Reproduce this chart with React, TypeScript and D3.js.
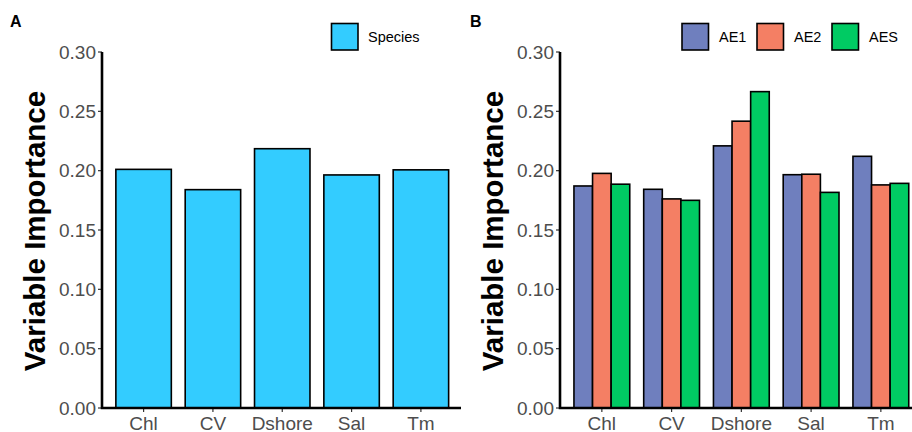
import React, { useRef, useEffect } from 'react';
import * as d3 from 'd3';

// predictors on the x axis
const categories = ['Chl', 'CV', 'Dshore', 'Sal', 'Tm'];

// panel A: all species
const speciesValues = [0.2011, 0.1840, 0.2185, 0.1964, 0.2007];

// panel B: groups
const groups = ['AE1', 'AE2', 'AES'];
const ae1Values = [0.1871, 0.1843, 0.2209, 0.1966, 0.2121];
const ae2Values = [0.1977, 0.1762, 0.2417, 0.1970, 0.1880];
const aesValues = [0.1886, 0.1750, 0.2666, 0.1817, 0.1893];

const yTicks = [0, 0.05, 0.1, 0.15, 0.2, 0.25, 0.3];

const groupColors = ['#6F7FBE', '#F47F64', '#00CB63'];
const speciesColor = '#33CCFF';

export default function App() {
    const svgRef = useRef(null);

    useEffect(() => {
        const svg = d3.select(svgRef.current);
        svg.selectAll('*').remove();

        const font = 'Liberation Sans, Arial, sans-serif';
        const y = d3.scaleLinear().domain([0, 0.3]).range([408, 52]);

        function drawPanel(left, right, letter, letterX) {
            const g = svg.append('g');
            const x = d3.scalePoint().domain(categories).range([left, right]).padding(0.6);

            // y tick labels + ticks
            yTicks.forEach(t => {
                g.append('line')
                    .attr('x1', left - 4).attr('x2', left)
                    .attr('y1', y(t)).attr('y2', y(t))
                    .attr('stroke', '#333').attr('stroke-width', 1.2);
                g.append('text')
                    .attr('x', left - 6).attr('y', y(t))
                    .attr('dy', '0.35em')
                    .attr('text-anchor', 'end')
                    .attr('font-family', font).attr('font-size', 19)
                    .attr('fill', '#4D4D4D')
                    .text(d3.format('.2f')(t));
            });

            // x tick labels + ticks
            categories.forEach(c => {
                g.append('line')
                    .attr('x1', x(c)).attr('x2', x(c))
                    .attr('y1', 408).attr('y2', 412)
                    .attr('stroke', '#333').attr('stroke-width', 1.2);
                g.append('text')
                    .attr('x', x(c)).attr('y', 430)
                    .attr('text-anchor', 'middle')
                    .attr('font-family', font).attr('font-size', 19)
                    .attr('fill', '#4D4D4D')
                    .text(c);
            });

            // y axis title
            g.append('text')
                .attr('transform', 'translate(' + (left - 57) + ',' + 231 + ') rotate(-90)')
                .attr('text-anchor', 'middle')
                .attr('font-family', font).attr('font-size', 29.5)
                .attr('font-weight', 'bold')
                .text('Variable Importance');

            // panel letter
            g.append('text')
                .attr('x', letterX).attr('y', 27)
                .attr('font-family', font).attr('font-size', 16)
                .attr('font-weight', 'bold')
                .text(letter);

            return { g, x };
        }

        // ---- panel A ----
        const A = drawPanel(102, 462.5, 'A', 10);
        const stepA = A.x.step();
        A.g.selectAll('rect.bar')
            .data(speciesValues)
            .enter().append('rect')
            .attr('x', (d, i) => A.x(categories[i]) - stepA * 0.4)
            .attr('width', stepA * 0.8)
            .attr('y', d => y(d))
            .attr('height', d => y(0) - y(d))
            .attr('fill', speciesColor)
            .attr('stroke', '#000').attr('stroke-width', 1.6);

        A.g.append('path')
            .attr('d', 'M102,52V408H461')
            .attr('fill', 'none').attr('stroke', '#000').attr('stroke-width', 2.6);

        // legend A
        A.g.append('rect')
            .attr('x', 331.5).attr('y', 23.5).attr('width', 26.5).attr('height', 26.5)
            .attr('fill', speciesColor).attr('stroke', '#000').attr('stroke-width', 1.6);
        A.g.append('text')
            .attr('x', 368).attr('y', 37).attr('dy', '0.35em')
            .attr('font-family', font).attr('font-size', 14.5)
            .text('Species');

        // ---- panel B ----
        const B = drawPanel(560, 922.7, 'B', 470);
        const stepB = B.x.step();
        const inner = d3.scaleBand().domain(groups).range([-stepB * 0.4, stepB * 0.4]);
        const seriesB = [ae1Values, ae2Values, aesValues];
        seriesB.forEach((vals, gi) => {
            B.g.selectAll('rect.s' + gi)
                .data(vals)
                .enter().append('rect')
                .attr('x', (d, i) => B.x(categories[i]) + inner(groups[gi]))
                .attr('width', inner.bandwidth())
                .attr('y', d => y(d))
                .attr('height', d => y(0) - y(d))
                .attr('fill', groupColors[gi])
                .attr('stroke', '#000').attr('stroke-width', 1.6);
        });

        B.g.append('path')
            .attr('d', 'M560,52V408H912')
            .attr('fill', 'none').attr('stroke', '#000').attr('stroke-width', 2.6);

        // legend B
        const legendX = [682, 757, 832];
        groups.forEach((name, i) => {
            B.g.append('rect')
                .attr('x', legendX[i]).attr('y', 23.5).attr('width', 26.5).attr('height', 26.5)
                .attr('fill', groupColors[i]).attr('stroke', '#000').attr('stroke-width', 1.6);
            B.g.append('text')
                .attr('x', legendX[i] + 37).attr('y', 37).attr('dy', '0.35em')
                .attr('font-family', font).attr('font-size', 14.5)
                .text(name);
        });
    }, []);

    return (
        <svg ref={svgRef} width={912} height={432}
            style={{ position: 'absolute', left: 0, top: 0, background: '#fff' }} />
    );
}
